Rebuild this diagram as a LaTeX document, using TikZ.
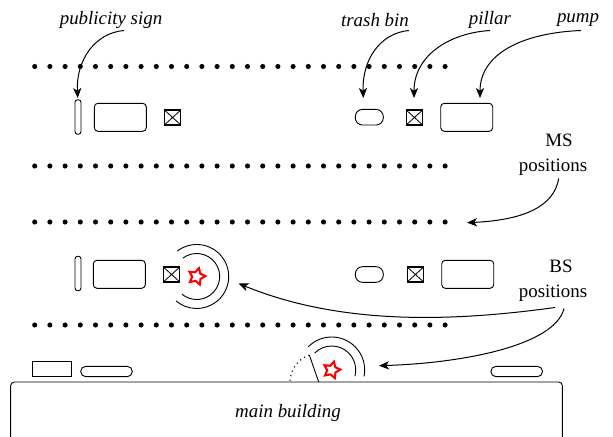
\documentclass[tikz,border=0pt]{standalone}
\usepackage{fontspec}
\setmainfont{Liberation Serif}
\usetikzlibrary{arrows.meta,shapes.geometric}
\tikzset{
    every node/.style={font=\fontsize{10.4}{12}\selectfont},
    pumpbox/.style={draw,rectangle,line width=0.5pt,rounded corners=2pt,minimum width=28.6pt,minimum height=15.4pt,inner sep=0pt},
    signbox/.style={draw,rectangle,line width=0.5pt,rounded corners=1.5pt,minimum width=3.3pt,minimum height=19pt,inner sep=0pt},
    binbox/.style={draw,rectangle,line width=0.5pt,rounded corners=4pt,minimum width=15.4pt,minimum height=8.6pt,inner sep=0pt},
    kerbbox/.style={draw,rectangle,line width=0.5pt,rounded corners=2.8pt,minimum width=28.4pt,minimum height=5.7pt,inner sep=0pt},
    kioskbox/.style={draw,rectangle,line width=0.5pt,minimum width=21.6pt,minimum height=8.4pt,inner sep=0pt},
    pillarbox/.style={draw,rectangle,line width=0.7pt,minimum width=9pt,minimum height=8.2pt,inner sep=0pt,
        path picture={\draw[line width=0.45pt] (path picture bounding box.north west) -- (path picture bounding box.south east)
            (path picture bounding box.north east) -- (path picture bounding box.south west);}},
    bsstar/.style={draw=red,star,star points=5,star point ratio=1.9,line width=1.15pt,minimum size=9.5pt,inner sep=0pt},
    pointer/.style={-{Stealth[length=5.5pt,width=4.5pt,inset=1.5pt]},line width=0.55pt},
    label/.style={font=\fontsize{10.4}{12}\selectfont\itshape},
}
\begin{document}
\begin{tikzpicture}[x=0.55pt,y=-0.55pt]
    \useasboundingbox (0,0) rectangle (613,437);

    % MS positions
    \foreach \y in {66.5,166,222,325}
        \foreach \i in {0,...,27}
            \fill (34.7+\i*15.2,\y) circle (1.4pt);

    % Upper row
    \node[signbox] (sign1) at (78,117) {};
    \node[pumpbox] (pump1) at (120.3,117.3) {};
    \node[pillarbox] (pillar1) at (172.6,117.5) {};
    \node[binbox] (bin1) at (369.3,117.2) {};
    \node[pillarbox] (pillar2) at (414.4,117.5) {};
    \node[pumpbox] (pump2) at (466.7,117.3) {};

    % Lower row
    \node[signbox] (sign2) at (78,273.5) {};
    \node[pumpbox] (pump3) at (119.3,274.3) {};
    \node[pillarbox] (pillar3) at (171.6,274.5) {};
    \node[binbox] (bin2) at (369.3,274.5) {};
    \node[pillarbox] (pillar4) at (415.4,274.5) {};
    \node[pumpbox] (pump4) at (467.7,274.3) {};

    % Main building
    \draw[line width=0.5pt,rounded corners=2pt] (10.7,440) -- (10.7,382) -- (562.3,382) -- (562.3,440);
    \node[label] (building) at (288,413) {main building};
    \node[kioskbox] (kiosk) at (52,369) {};
    \node[kerbbox] (kerb1) at (106.5,371.5) {};
    \node[kerbbox] (kerb2) at (516.7,371.5) {};

    % Door
    \draw[line width=0.5pt] (318.7,382) -- (309.3,355);
    \draw[dotted,line width=0.6pt] (309.3,355) arc (-109:-180:28.6);

    % Base station on the pillar
    \node[bsstar,rotate=-15] (bs1) at (196.7,276.5) {};
    \draw[line width=0.5pt] (bs1.center) ++(-127:23) arc (-127:130:23);
    \draw[line width=0.5pt] (bs1.center) ++(-127:32) arc (-127:130:32);

    % Base station on the building
    \node[bsstar,rotate=-15] (bs2) at (331.7,370) {};
    \draw[line width=0.5pt] (bs2.center) ++(-135:24) arc (-135:15:24);
    \draw[line width=0.5pt] (bs2.center) ++(-135:33) arc (-135:11:33);

    % Labels
    \node[label] (signlabel) at (111,20) {publicity sign};
    \node[label] (binlabel) at (375,20) {trash bin};
    \node[label] (pillarlabel) at (490,20) {pillar};
    \node[label] (pumplabel) at (578,20) {pump};
    \node (mslabel) at (559,140) {MS};
    \node (mslabel2) at (553,167) {positions};
    \node (bslabel) at (561,266) {BS};
    \node (bslabel2) at (553,293) {positions};

    % Pointers
    \coordinate (signtail) at (124,30.5);
    \coordinate (bintail) at (409,30.5);
    \coordinate (pillartail) at (490,30.5);
    \coordinate (pumptail) at (581,30.5);
    \coordinate (mstail) at (558.7,178.5);
    \coordinate (bstail1) at (555,307.5);
    \coordinate (bstail2) at (564,308.5);
    \coordinate (signtip) at (77.7,98);
    \coordinate (bintip) at (363.3,98);
    \coordinate (pillartip) at (414,98);
    \coordinate (pumptip) at (480,98);
    \coordinate (mstip) at (467,222.7);
    \coordinate (bstip1) at (238.5,283.5);
    \coordinate (bstip2) at (379,365.7);
    \draw[pointer] (signtail) .. controls (95,33) and (76,60) .. (signtip);
    \draw[pointer] (bintail) .. controls (380,33) and (362,60) .. (bintip);
    \draw[pointer] (pillartail) .. controls (450,33) and (414,55) .. (pillartip);
    \draw[pointer] (pumptail) .. controls (520,33) and (480,55) .. (pumptip);
    \draw[pointer] (mstail) .. controls (554,206) and (525,220) .. (mstip);
    \draw[pointer] (bstail1) .. controls (450,322) and (340,325) .. (bstip1);
    \draw[pointer] (bstail2) .. controls (555,345) and (465,363) .. (bstip2);
\end{tikzpicture}
\end{document}
